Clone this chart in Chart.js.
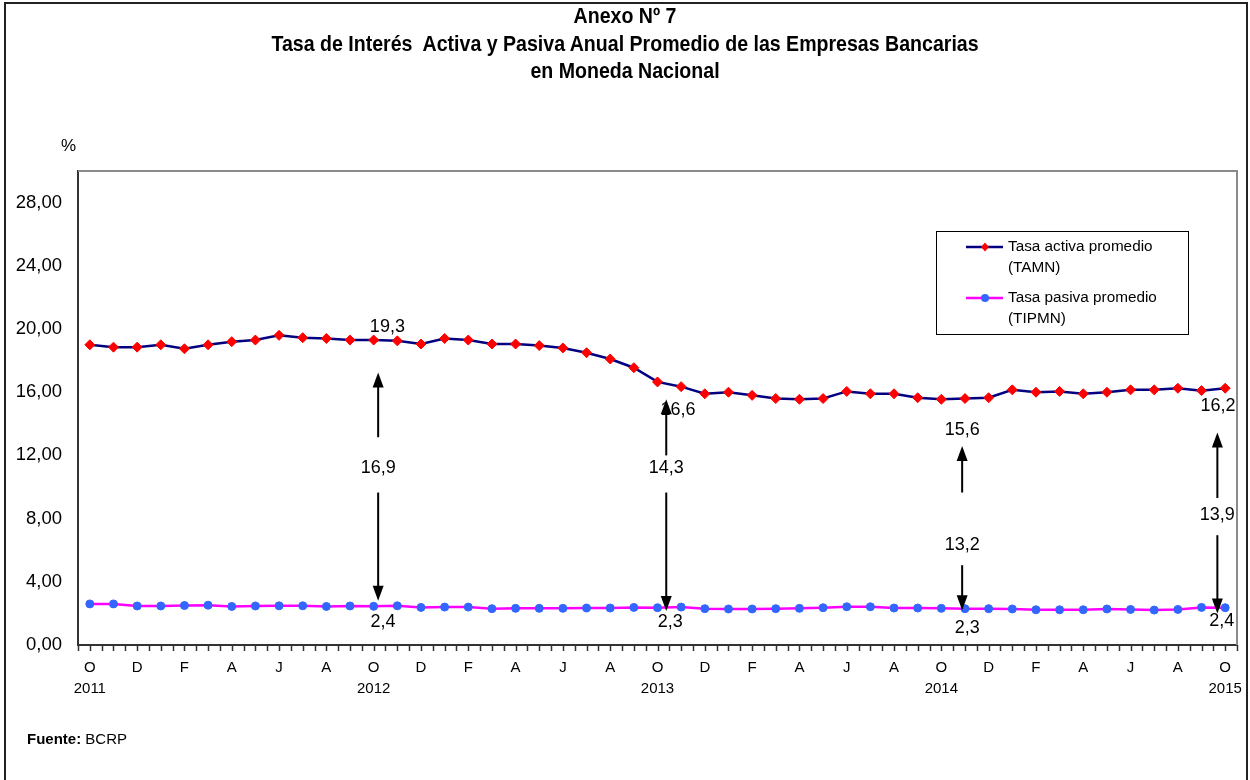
<!DOCTYPE html>
<html lang="es">
<head>
<meta charset="utf-8">
<title>Anexo Nº 7</title>
<script src="https://cdn.jsdelivr.net/npm/chart.js@4.4.1/dist/chart.umd.min.js"></script>
<style>
  html, body { margin: 0; padding: 0; background: #fff; }
  #marco { position: relative; width: 1250px; height: 780px; overflow: hidden; }
  #borde { position: absolute; left: 4px; top: 2px; width: 1240px; height: 820px; border: 2px solid #222; }
  canvas { position: absolute; left: 0; top: 0; }
  .titulo { position: absolute; left: 0; top: 3px; width: 1250px; text-align: center; color: #000;
            font: bold 21.5px 'Liberation Sans Narrow', 'Liberation Sans', Arial, sans-serif; line-height: 27.5px;
            transform: scaleX(0.91); }
  .pct { position: absolute; left: 61px; top: 136px; font: 17px 'Liberation Sans', Arial, sans-serif; }
  .fuente { position: absolute; left: 27px; top: 730px; font: 15px 'Liberation Sans', Arial, sans-serif; }
</style>
</head>
<body>
<div id="marco">
  <div id="borde"></div>
  <canvas id="grafica" width="1250" height="780"></canvas>
  <div class="titulo">Anexo Nº 7<br>Tasa de Interés&nbsp; Activa y Pasiva Anual Promedio de las Empresas Bancarias<br>en Moneda Nacional</div>
  <div class="pct">%</div>
  <div class="fuente"><b>Fuente:</b> BCRP</div>
</div>
<script>
// ── Datos ────────────────────────────────────────────────
const meses = ['O', 'N', 'D', 'E', 'F', 'M', 'A', 'M', 'J', 'J', 'A', 'S'];
const anios = ['2011', '2012', '2013', '2014', '2015'];

// Tasa activa promedio (TAMN), oct-2011 a oct-2015
const tamn = [19.0, 18.85, 18.85, 19.0, 18.75, 19.0, 19.2, 19.3, 19.6, 19.45, 19.4, 19.3,
              19.3, 19.25, 19.05, 19.4, 19.3, 19.05, 19.05, 18.95, 18.8, 18.5, 18.1, 17.55,
              16.65, 16.35, 15.9, 16.0, 15.8, 15.6, 15.55, 15.6, 16.05, 15.9, 15.9, 15.65,
              15.55, 15.6, 15.65, 16.15, 16.0, 16.05, 15.9, 16.0, 16.15, 16.15, 16.25, 16.1,
              16.25];
// Tasa pasiva promedio (TIPMN)
const tipmn = [2.6, 2.6, 2.47, 2.47, 2.5, 2.52, 2.44, 2.47, 2.48, 2.48, 2.44, 2.47,
               2.45, 2.48, 2.38, 2.4, 2.4, 2.3, 2.32, 2.32, 2.32, 2.34, 2.34, 2.38,
               2.36, 2.4, 2.3, 2.28, 2.28, 2.3, 2.32, 2.36, 2.42, 2.42, 2.34, 2.34,
               2.32, 2.3, 2.3, 2.28, 2.23, 2.23, 2.23, 2.28, 2.25, 2.21, 2.25, 2.38,
               2.36];
const yTicks = [0, 4, 8, 12, 16, 20, 24, 28];

// ── Anotaciones (en unidades de los ejes) ────────────────
const notaX       = [12.19, 24.37, 36.88, 47.67];   // posición de las flechas (mes)
const notaActiva  = ['19,3', '16,6', '15,6', '16,2'];
const notaActX    = [12.58, 24.87, 36.88, 47.7];
const notaActY    = [20.1, 14.85, 13.6, 15.15];
const notaDif     = ['16,9', '14,3', '13,2', '13,9'];
const notaDifY    = [11.2, 11.2, 6.3, 8.2];
const notaPasiva  = ['2,4', '2,3', '2,3', '2,4'];
const notaPasX    = [12.4, 24.54, 37.1, 47.86];
const notaPasY    = [1.45, 1.45, 1.07, 1.5];
const flechaArriba = [[13.15, 17.25], [12.0, 15.55], [9.65, 12.6], [9.3, 13.45]];  // [desde, hasta]
const flechaAbajo  = [[9.65, 2.8], [9.65, 2.15], [5.05, 2.2], [6.95, 2.0]];

// categorías mensuales (oct-2011 ... oct-2015)
const categorias = tamn.map((_, i) => meses[i % 12] + ' ' + anios[Math.floor((i + 9) / 12)]);
function etiquetaX(i) {
  if (i % 2) return '';
  if (i % 12 === 0) return [meses[0], anios[i / 12]];
  return meses[i % 12];
}

const FUENTE = "'Liberation Sans', Arial, sans-serif";

// ── Plugins de dibujo ────────────────────────────────────
const marcoPlot = {
  id: 'marcoPlot',
  beforeDatasetsDraw(chart) {
    const { ctx, chartArea: a } = chart;
    ctx.save();
    ctx.strokeStyle = '#8a8a8a';
    ctx.lineWidth = 2;
    ctx.beginPath();
    ctx.moveTo(a.left, a.top);
    ctx.lineTo(a.right, a.top);
    ctx.lineTo(a.right, a.bottom);
    ctx.stroke();
    // marcas del eje X (bordes y centros de cada mes)
    const x = chart.scales.x;
    ctx.strokeStyle = '#333';
    ctx.lineWidth = 1.5;
    ctx.beginPath();
    for (let i = 0; i < tamn.length; i++) {
      [i - 0.5, i].forEach(v => {
        const px = Math.round(x.getPixelForValue(v)) + 0.5;
        ctx.moveTo(px, a.bottom);
        ctx.lineTo(px, a.bottom + 6);
      });
    }
    const fin = Math.round(x.getPixelForValue(tamn.length - 0.5)) + 0.5;
    ctx.moveTo(fin, a.bottom);
    ctx.lineTo(fin, a.bottom + 6);
    ctx.stroke();
    ctx.restore();
  }
};

function flecha(ctx, px, y1, y2) {
  const dir = y2 < y1 ? 1 : -1;
  ctx.beginPath();
  ctx.moveTo(px, y1);
  ctx.lineTo(px, y2 + dir * 12);
  ctx.stroke();
  ctx.beginPath();
  ctx.moveTo(px, y2);
  ctx.lineTo(px - 5.5, y2 + dir * 15);
  ctx.lineTo(px + 5.5, y2 + dir * 15);
  ctx.closePath();
  ctx.fill();
}

const anotaciones = {
  id: 'anotaciones',
  afterDatasetsDraw(chart) {
    const { ctx } = chart;
    const x = chart.scales.x, y = chart.scales.y;
    ctx.save();
    ctx.fillStyle = '#000';
    ctx.strokeStyle = '#000';
    ctx.lineWidth = 2;
    ctx.font = '18px ' + FUENTE;
    ctx.textAlign = 'center';
    ctx.textBaseline = 'middle';
    notaX.forEach((m, k) => {
      const px = x.getPixelForValue(m);
      ctx.fillText(notaActiva[k], x.getPixelForValue(notaActX[k]), y.getPixelForValue(notaActY[k]));
      ctx.fillText(notaDif[k], px, y.getPixelForValue(notaDifY[k]));
      ctx.fillText(notaPasiva[k], x.getPixelForValue(notaPasX[k]), y.getPixelForValue(notaPasY[k]));
      flecha(ctx, px, y.getPixelForValue(flechaArriba[k][0]), y.getPixelForValue(flechaArriba[k][1]));
      flecha(ctx, px, y.getPixelForValue(flechaAbajo[k][0]), y.getPixelForValue(flechaAbajo[k][1]));
    });
    ctx.restore();
  }
};

const leyenda = {
  id: 'leyenda',
  afterDraw(chart) {
    const { ctx } = chart;
    const caja = { x: 936, y: 231, w: 252, h: 103 };
    const textos = [['Tasa activa promedio', '(TAMN)'], ['Tasa pasiva promedio', '(TIPMN)']];
    ctx.save();
    ctx.fillStyle = '#fff';
    ctx.fillRect(caja.x, caja.y, caja.w, caja.h);
    ctx.strokeStyle = '#000';
    ctx.lineWidth = 1;
    ctx.strokeRect(caja.x + 0.5, caja.y + 0.5, caja.w, caja.h);
    chart.data.datasets.forEach((ds, k) => {
      const ly = caja.y + 16 + k * 51;
      ctx.strokeStyle = ds.borderColor;
      ctx.lineWidth = 2.5;
      ctx.beginPath();
      ctx.moveTo(caja.x + 30, ly);
      ctx.lineTo(caja.x + 67, ly);
      ctx.stroke();
      ctx.fillStyle = ds.pointBackgroundColor;
      ctx.beginPath();
      if (ds.pointStyle === 'rectRot') {
        ctx.moveTo(caja.x + 49, ly - 4.5);
        ctx.lineTo(caja.x + 53, ly);
        ctx.lineTo(caja.x + 49, ly + 4.5);
        ctx.lineTo(caja.x + 45, ly);
      } else {
        ctx.arc(caja.x + 49, ly, 4, 0, Math.PI * 2);
      }
      ctx.fill();
      ctx.fillStyle = '#000';
      ctx.font = '15.3px ' + FUENTE;
      ctx.textAlign = 'left';
      ctx.textBaseline = 'middle';
      ctx.fillText(textos[k][0], caja.x + 72, ly);
      ctx.fillText(textos[k][1], caja.x + 72, ly + 20.5);
    });
    ctx.restore();
  }
};

// ── Gráfica ──────────────────────────────────────────────
new Chart(document.getElementById('grafica'), {
  type: 'line',
  data: {
    labels: categorias,
    datasets: [{
      label: 'Tasa activa promedio (TAMN)',
      data: tamn,
      borderColor: '#000080',
      borderWidth: 2.5,
      pointStyle: 'rectRot',
      pointRadius: 5,
      pointBackgroundColor: '#ff0000',
      pointBorderColor: '#ff0000',
      pointBorderWidth: 1,
      tension: 0
    }, {
      label: 'Tasa pasiva promedio (TIPMN)',
      data: tipmn,
      borderColor: '#ff00ff',
      borderWidth: 2.5,
      pointStyle: 'circle',
      pointRadius: 4,
      pointBackgroundColor: '#3366ff',
      pointBorderColor: '#3366ff',
      pointBorderWidth: 1,
      tension: 0
    }]
  },
  options: {
    responsive: false,
    animation: false,
    devicePixelRatio: 1,
    layout: { padding: { top: 171, right: 13, left: 0, bottom: 0 } },
    plugins: {
      legend: { display: false },
      tooltip: { enabled: false }
    },
    scales: {
      x: {
        offset: true,
        grid: { display: false, drawTicks: false },
        border: { display: true, color: '#333', width: 2 },
        ticks: {
          autoSkip: false,
          maxRotation: 0,
          padding: 13,
          color: '#000',
          font: { family: FUENTE, size: 15, lineHeight: 1.35 },
          callback: (v, i) => etiquetaX(i)
        },
        afterFit: s => { s.height = 135; s.paddingLeft = 0; s.paddingRight = 0; }
      },
      y: {
        min: 0,
        max: 30,
        grid: { display: false, drawTicks: false },
        border: { display: true, color: '#333', width: 2 },
        ticks: {
          padding: 16,
          color: '#000',
          font: { family: FUENTE, size: 18.5 },
          callback: v => v.toFixed(2).replace('.', ',')
        },
        afterBuildTicks: s => { s.ticks = yTicks.map(v => ({ value: v })); },
        afterFit: s => { s.width = 78; }
      }
    }
  },
  plugins: [marcoPlot, anotaciones, leyenda]
});
</script>
</body>
</html>
